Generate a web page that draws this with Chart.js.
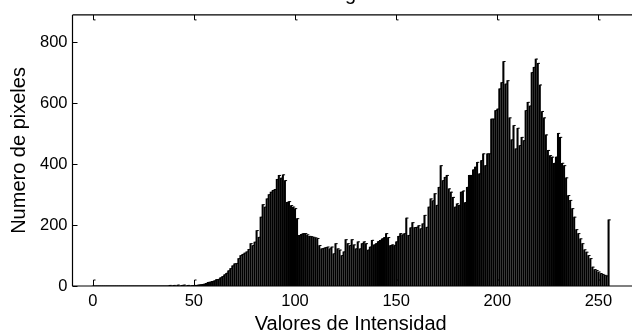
<!DOCTYPE html>
<html><head><meta charset="utf-8">
<script src="https://cdn.jsdelivr.net/npm/chart.js@4/dist/chart.umd.min.js"></script>
<style>html,body{margin:0;padding:0;background:#fff}#wrap{width:632px;height:336px;position:relative}</style>
</head><body><div id="wrap"><canvas id="c" width="632" height="336"></canvas></div>
<script>
const titleText = 'Histograma';
const xTitle = 'Valores de Intensidad';
const yTitle = 'Numero de pixeles';
const xTicks = [0, 50, 100, 150, 200, 250];
const yTicks = [0, 200, 400, 600, 800];
// pixel counts for intensity bins 0..255
const counts = [
  0,0,0,0,0,0,0,0,0,0,0,0,0,0,0,0,
  0,0,0,0,0,0,0,0,0,0,0,0,0,0,0,0,
  0,0,0,0,0,0,2,0,2,0,3,0,2,3,0,2,
  0,1,2,2,3,4,5,6,9,12,13,15,17,21,22,27,
  31,37,42,50,57,66,73,74,90,100,104,108,112,120,139,133,
  144,182,160,226,267,259,286,300,308,314,317,350,363,354,365,346,
  275,277,264,259,254,221,166,170,172,172,168,163,162,160,158,156,
  133,122,124,126,128,122,128,106,139,122,118,100,112,152,139,133,
  152,135,122,145,122,139,145,139,118,128,150,135,139,146,150,155,
  159,172,159,133,135,133,145,163,172,168,172,223,166,191,208,192,
  193,198,188,204,232,193,259,286,280,303,265,324,395,346,357,363,
  319,308,291,259,270,265,308,312,274,324,363,363,381,390,406,368,
  412,434,395,434,434,548,548,576,581,647,668,737,663,674,552,480,
  527,450,518,461,488,477,576,603,591,701,718,745,731,660,573,552,
  496,445,428,423,403,423,501,488,403,395,355,297,281,254,226,185,
  172,155,139,119,111,100,90,62,54,51,46,41,38,35,33,217
];
const points = counts.map((c, i) => ({x: i, y: c}));

const FONT = "'Liberation Sans', Arial, Helvetica, sans-serif";
Chart.defaults.font.family = FONT;
Chart.defaults.color = '#000';

const frame = {
  id: 'frame',
  afterDatasetsDraw(chart) {
    const {ctx, chartArea: a, scales: {x, y}} = chart;
    ctx.save();
    ctx.strokeStyle = '#000';
    ctx.lineWidth = 1.2;
    ctx.beginPath();
    ctx.moveTo(a.left, a.top); ctx.lineTo(chart.width, a.top);
    ctx.moveTo(a.left, a.top); ctx.lineTo(a.left, a.bottom);
    ctx.moveTo(a.left, a.bottom); ctx.lineTo(chart.width, a.bottom);
    ctx.stroke();
    ctx.lineWidth = 1;
    ctx.beginPath();
    xTicks.forEach(v => {
      const px = Math.round(x.getPixelForValue(v)) + 0.5;
      ctx.moveTo(px, a.top); ctx.lineTo(px, a.top + 5); ctx.lineTo(px + 2, a.top + 5);
      ctx.moveTo(px, a.bottom); ctx.lineTo(px, a.bottom - 6); ctx.lineTo(px + 2, a.bottom - 6);
    });
    yTicks.forEach(v => {
      const py = Math.round(y.getPixelForValue(v)) + 0.5;
      ctx.moveTo(a.left, py); ctx.lineTo(a.left + 5, py);
    });
    ctx.stroke();
    ctx.fillStyle = '#000';
    ctx.font = '20px ' + FONT;
    ctx.textAlign = 'center';
    ctx.textBaseline = 'alphabetic';
    ctx.fillText(titleText, (a.left + a.right) / 2, 0);
    ctx.restore();
  }
};

new Chart(document.getElementById('c'), {
  type: 'bar',
  data: {
    datasets: [
      {type: 'bar', data: points, backgroundColor: '#000', borderWidth: 0, barThickness: 1.4, grouped: false, order: 2},
      {type: 'scatter', data: points, pointStyle: 'dash', radius: 2.2, hoverRadius: 2.2, borderColor: '#000', backgroundColor: '#000', borderWidth: 1, order: 1}
    ]
  },
  options: {
    responsive: false,
    animation: false,
    devicePixelRatio: 1,
    layout: {padding: {top: 14, right: 0, left: 0, bottom: 0}},
    plugins: {legend: {display: false}, tooltip: {enabled: false}},
    scales: {
      x: {
        type: 'linear', min: -10, max: 265, offset: false,
        grid: {display: false, drawTicks: false, tickLength: 0}, border: {display: false},
        afterBuildTicks: s => { s.ticks = xTicks.map(v => ({value: v})); },
        ticks: {color: '#000', font: {size: 16.5}, padding: 6, maxRotation: 0, autoSkip: false},
        title: {display: true, text: xTitle, color: '#000', font: {size: 20}, padding: {top: 0, bottom: 0}},
        afterFit: s => { s.height = 50; }
      },
      y: {
        type: 'linear', min: 0, max: 890,
        grid: {display: false, drawTicks: false, tickLength: 0}, border: {display: false},
        afterBuildTicks: s => { s.ticks = yTicks.map(v => ({value: v})); },
        ticks: {color: '#000', font: {size: 16.5}, padding: 5},
        title: {display: true, text: yTitle, color: '#000', font: {size: 20}, padding: {top: 7, bottom: 0}},
        afterFit: s => { s.width = 72.5; }
      }
    }
  },
  plugins: [frame]
});
</script>
</body></html>
